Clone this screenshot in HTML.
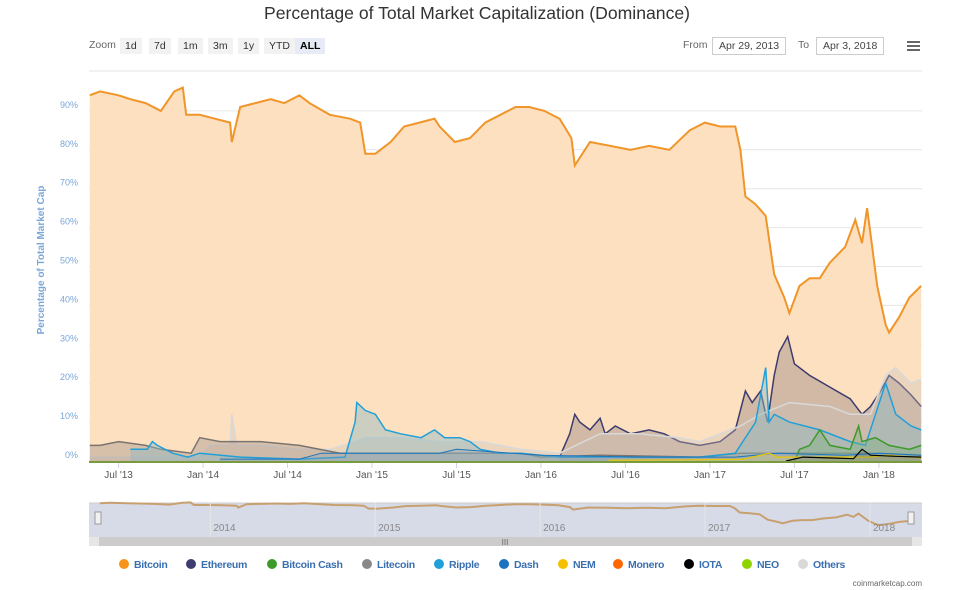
<!DOCTYPE html>
<html><head><meta charset="utf-8"><style>
body{margin:0;background:#fff;font-family:"Liberation Sans",sans-serif;}
#wrap{position:relative;width:971px;height:590px;overflow:hidden;}
.btn{position:absolute;top:38px;height:16px;line-height:16px;font-size:10.5px;color:#333;background:#f2f2f2;padding:0 5px;}
.inp{position:absolute;top:37px;height:16px;line-height:16px;font-size:10.5px;color:#444;border:1px solid #ccc;padding:0 6px;}
.lbl{position:absolute;top:39px;font-size:10.5px;color:#666;}
</style></head><body>
<div id="wrap">
<div style="position:absolute;top:3px;left:0;width:954px;text-align:center;font-size:17.6px;color:#333;">Percentage of Total Market Capitalization (Dominance)</div>
<div class="lbl" style="left:89px">Zoom</div>
<div class="btn" style="left:120px">1d</div>
<div class="btn" style="left:149px">7d</div>
<div class="btn" style="left:178px">1m</div>
<div class="btn" style="left:208px">3m</div>
<div class="btn" style="left:238px">1y</div>
<div class="btn" style="left:264px">YTD</div>
<div class="btn" style="left:295px;background:#e6ebf5;font-weight:bold;color:#000">ALL</div>
<div class="lbl" style="left:683px">From</div>
<div class="inp" style="left:712px">Apr 29, 2013</div>
<div class="lbl" style="left:798px">To</div>
<div class="inp" style="left:816px">Apr 3, 2018</div>
<div style="position:absolute;left:907px;top:41px;width:13px;height:10px;border-top:2px solid #666;border-bottom:2px solid #666;box-sizing:border-box;"><div style="margin-top:2px;height:2px;background:#666"></div></div>
<svg id="svg" width="971" height="590" style="position:absolute;left:0;top:0"></svg>
</div>
<script>
const btcDates=[2013.33,2013.39,2013.50,2013.57,2013.66,2013.75,2013.83,2013.88,2013.90,2013.98,2014.07,2014.16,2014.17,2014.22,2014.31,2014.40,2014.48,2014.57,2014.63,2014.75,2014.87,2014.93,2014.96,2015.02,2015.11,2015.19,2015.28,2015.37,2015.40,2015.49,2015.58,2015.67,2015.76,2015.85,2015.93,2016.02,2016.11,2016.18,2016.20,2016.29,2016.41,2016.53,2016.64,2016.76,2016.88,2016.97,2017.06,2017.15,2017.18,2017.21,2017.27,2017.33,2017.38,2017.44,2017.47,2017.53,2017.59,2017.65,2017.71,2017.80,2017.86,2017.90,2017.93,2017.96,2017.99,2018.04,2018.06,2018.12,2018.18,2018.25];
const btcVals=[94,95,94,93,92,90,95,96,89,89,88,87,82,91,92,93,92,94,92,89,88,87,79,79,82,86,87,88,86,82,83,87,89,91,91,90,88,83,76,82,81,80,81,80,85,87,86,86,80,68,66,63,48,42,38,45,47,47,51,55,62,56,65,55,45,35,33,37,42,45];
const ethDates=[2016.11,2016.17,2016.20,2016.23,2016.29,2016.35,2016.38,2016.44,2016.53,2016.64,2016.73,2016.82,2016.94,2017.06,2017.15,2017.21,2017.25,2017.30,2017.34,2017.38,2017.41,2017.46,2017.50,2017.59,2017.71,2017.83,2017.90,2017.95,2018.01,2018.06,2018.12,2018.19,2018.25];
const ethVals=[1,7,12,10,8,11,7,9,7,8,7,5,4,5,8,18,15,18,10,22,28,32,25,22,19,16,12,14,18,22,20,17,14];
const xrpDates=[2013.57,2013.67,2013.70,2013.73,2013.82,2013.91,2013.98,2014.22,2014.57,2014.84,2014.90,2014.91,2014.96,2015.02,2015.08,2015.17,2015.29,2015.37,2015.43,2015.52,2015.58,2015.64,2015.76,2015.88,2016.00,2016.11,2016.94,2017.15,2017.27,2017.33,2017.35,2017.38,2017.47,2017.65,2017.83,2017.92,2017.98,2018.04,2018.10,2018.19,2018.25];
const xrpVals=[3,3,5,4,2,1,2,1,0.5,1,10,15,13,12,8,7,6,8,6,6,5,3,2,2,1.5,1,1,2,10,24,10,12,10,8,5,4,12,20,12,9,8];
const ltcDates=[2013.33,2013.39,2013.50,2013.66,2013.75,2013.93,2013.98,2014.10,2014.34,2014.57,2014.81,2014.90,2015.05,2015.28,2015.46,2015.64,2015.88,2016.00,2016.35,2016.94,2017.18,2017.41,2017.99,2018.25];
const ltcVals=[4,4,5,4,3,2,6,5,5,4,2,2,2,2,2,2,2,1,1.5,1,2,2,2,1.5];
const othDates=[2013.33,2013.50,2013.98,2014.04,2014.16,2014.17,2014.20,2014.34,2014.57,2014.75,2014.90,2014.96,2015.17,2015.40,2015.64,2015.88,2016.11,2016.35,2016.58,2016.82,2016.94,2017.18,2017.30,2017.47,2017.71,2017.83,2017.95,2018.04,2018.10,2018.19,2018.25];
const othVals=[1,1,1,4,4,12,4,4,3,3,5,6,6,5,5,3,2,7,7,6,5,9,12,15,14,12,12,22,24,20,21];
const bchDates=[2017.50,2017.53,2017.59,2017.65,2017.71,2017.83,2017.88,2017.90,2017.98,2018.06,2018.18,2018.25];
const bchVals=[0,3,4,8,4,3,9,5,6,4,3,4];
const dashDates=[2014.10,2014.57,2014.70,2015.40,2015.50,2016.00,2016.60,2017.15,2017.40,2017.80,2018.00,2018.25];
const dashVals=[0.5,0.5,2,2,3,1.5,1,1,2,1.5,2,1.5];
const iotaDates=[2017.45,2017.55,2017.70,2017.85,2017.90,2017.95,2018.10,2018.25];
const iotaVals=[0,1,0.8,0.6,3,1.5,1.2,1];
const nemDates=[2016.40,2016.90,2017.20,2017.35,2017.40,2017.60,2017.95,2018.05,2018.25];
const nemVals=[0.2,0.3,0.5,2,1,1,1,1.5,0.8];
const yTicks=[0,10,20,30,40,50,60,70,80,90];
const xTickLabels=["Jul '13","Jan '14","Jul '14","Jan '15","Jul '15","Jan '16","Jul '16","Jan '17","Jul '17","Jan '18"];
const xTickDates=[2013.5,2014.0,2014.5,2015.0,2015.5,2016.0,2016.5,2017.0,2017.5,2018.0];
const navYears=["2014","2015","2016","2017","2018"];
const legendNames=["Bitcoin","Ethereum","Bitcoin Cash","Litecoin","Ripple","Dash","NEM","Monero","IOTA","NEO","Others"];
const legendColors=["#f7931a","#3c3c6e","#3d9a2a","#888888","#20a0d8","#1c75bc","#f5c000","#ff6600","#000000","#8fd400","#d9d9d9"];

const NS="http://www.w3.org/2000/svg",svg=document.getElementById('svg');
const X0=89,X1=922,D0=2013.325,D1=2018.255;
const xs=d=>X0+(d-D0)/(D1-D0)*(X1-X0);
const ys=v=>461-v*3.89;
function mk(t,a,p){const e=document.createElementNS(NS,t);for(const k in a)e.setAttribute(k,a[k]);(p||svg).appendChild(e);return e;}
yTicks.forEach(v=>{
  const l=mk('line',{x1:X0,x2:X1,y1:ys(v),y2:ys(v),stroke:'#e6e6e6'});
  
  
  const t=mk('text',{x:78,y:ys(v)-3,'text-anchor':'end','font-size':9,fill:'#7aa6d8'});
  t.textContent=v+'%';
  
  
});
mk('line',{x1:X0,x2:X1,y1:71,y2:71,stroke:'#e6e6e6'});
const yt=mk('text',{x:44,y:260,'text-anchor':'middle','font-size':10,'font-weight':'bold',fill:'#7aa6d8',transform:'rotate(-90 44 260)'});
yt.textContent='Percentage of Total Market Cap';


function series(name,dates,vals,color,fill,op,w){
  let pts=dates.map((d,i)=>xs(d).toFixed(1)+','+ys(vals[i]).toFixed(1));
  const a=mk('path',{d:'M'+xs(dates[0]).toFixed(1)+','+ys(0)+' L'+pts.join(' L')+' L'+xs(dates[dates.length-1]).toFixed(1)+','+ys(0)+'Z',fill:fill,'fill-opacity':op,stroke:'none'});
  
  
  const l=mk('path',{d:'M'+pts.join(' L'),fill:'none',stroke:color,'stroke-width':w||1.5});
  
  
}
series('bitcoin',btcDates,btcVals,'#f0952a','#fde0c0',1,2);
series('ethereum',ethDates,ethVals,'#3c3c6e','#9c8a85',0.45);
series('others',othDates,othVals,'#d9d9d9','#c8c0b8',0.35);
series('litecoin',ltcDates,ltcVals,'#7a7470','#a89a90',0.45);
series('ripple',xrpDates,xrpVals,'#20a0d8','#8fb8c0',0.45);
series('bitcoin-cash',bchDates,bchVals,'#3d9a2a','#7ab080',0.4);
series('dash',dashDates,dashVals,'#1c75bc','#8aa0b0',0.3,1);
series('nem',nemDates,nemVals,'#e8c800','#e8d870',0.3,1.2);
series('iota',iotaDates,iotaVals,'#000','#555',0.2,1.2);
mk('line',{x1:X0,x2:X1,y1:462,y2:462,stroke:'#7a9a40','stroke-width':2});
xTickDates.forEach((d,i)=>{
  mk('line',{x1:xs(d),x2:xs(d),y1:463,y2:468,stroke:'#ccd6eb'});
  const t=mk('text',{x:xs(d),y:478,'text-anchor':'middle','font-size':10,fill:'#555'});
  t.textContent=xTickLabels[i];
  
  
});
const nav=mk('g',{});


mk('rect',{x:X0,y:503,width:X1-X0,height:34,fill:'#d7dbe8'},nav);
mk('line',{x1:X0,x2:X1,y1:503,y2:503,stroke:'#ccc'},nav);
const nx=d=>X0+10+(d-D0)/(D1-D0)*(X1-X0-20), ny=v=>537-v*0.36;
mk('path',{d:'M'+btcDates.map((d,i)=>nx(d).toFixed(1)+','+ny(btcVals[i]).toFixed(1)).join(' L'),fill:'none',stroke:'#c8a070','stroke-width':2},nav);
navYears.forEach((y,i)=>{
  const xx=nx(2014+i);
  mk('line',{x1:xx,x2:xx,y1:503,y2:537,stroke:'#e6e6e6'},nav);
  const t=mk('text',{x:xx+3,y:531,'font-size':10,fill:'#888'},nav);
  t.textContent=y;
  
  
});
[98,911].forEach(x=>{mk('rect',{x:x-3,y:512,width:6,height:12,fill:'#f2f2f2',stroke:'#999'},nav);});
const sb=mk('rect',{x:X0,y:537,width:X1-X0,height:9,fill:'#e6e6e6'});


mk('rect',{x:X0+10,y:537,width:X1-X0-20,height:9,fill:'#ccc'});
const st=mk('text',{x:505,y:545,'font-size':8,fill:'#666','text-anchor':'middle'});st.textContent='III';
const lx=[124,191,272,367,439,504,563,618,689,747,803];
legendNames.forEach((n,i)=>{
  const g=mk('g',{});
  
  
  mk('circle',{cx:lx[i],cy:564,r:5,fill:legendColors[i]},g);
  const t=mk('text',{x:lx[i]+10,y:568,'font-size':10.5,'font-weight':'bold',fill:'#3a6fb0','letter-spacing':'-0.3'},g);
  t.textContent=n;
});
const cr=mk('text',{x:922,y:586,'text-anchor':'end','font-size':8,fill:'#666'});
cr.textContent='coinmarketcap.com';


</script>
</body></html>
